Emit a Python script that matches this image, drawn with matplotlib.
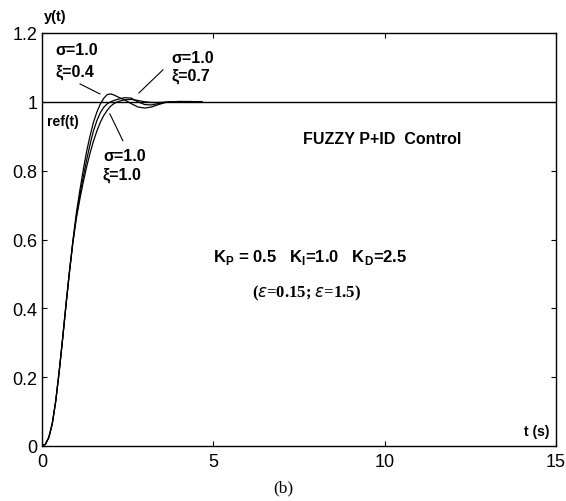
import matplotlib
matplotlib.use("Agg")
import matplotlib.pyplot as plt

# ---- data ----
t_vals = [0, 0.1, 0.2, 0.3, 0.4, 0.5, 0.6, 0.7, 0.8, 0.9, 1.0, 1.1, 1.2, 1.3, 1.4,
          1.5, 1.6, 1.7, 1.8, 1.9, 2.0, 2.1, 2.2, 2.4, 2.6, 2.8, 3.0, 3.2, 3.4,
          3.6, 3.8, 4.0, 4.3, 4.67]
y_xi04 = [0, 0.005, 0.025, 0.065, 0.13, 0.215, 0.31, 0.41, 0.505, 0.595, 0.675,
          0.74, 0.80, 0.855, 0.90, 0.94, 0.97, 0.993, 1.01, 1.021, 1.023, 1.02,
          1.015, 1.006, 0.995, 0.985, 0.982, 0.985, 0.992, 0.998, 1.0, 1.001,
          1.001, 1.0]
y_xi07 = [0, 0.005, 0.025, 0.065, 0.13, 0.215, 0.31, 0.41, 0.505, 0.592, 0.665,
          0.725, 0.78, 0.83, 0.875, 0.915, 0.945, 0.968, 0.984, 0.994, 1.0,
          1.004, 1.007, 1.012, 1.011, 1.0, 0.992, 0.991, 0.995, 0.999, 1.0,
          1.001, 1.0, 1.0]
y_xi10 = [0, 0.005, 0.025, 0.065, 0.13, 0.215, 0.31, 0.41, 0.505, 0.59, 0.66,
          0.715, 0.765, 0.81, 0.85, 0.885, 0.915, 0.94, 0.96, 0.975, 0.987,
          0.995, 1.0, 1.006, 1.007, 1.004, 1.0, 0.998, 0.998, 0.999, 1.0,
          1.0, 1.0, 1.0]
ref_t = [0, 15]
ref_y = [1, 1]

x_ticks = [0, 5, 10, 15]
y_ticks = [0, 0.2, 0.4, 0.6, 0.8, 1, 1.2]
x_tick_labels = ["0", "5", "10", "15"]
y_tick_labels = ["0", "0.2", "0.4", "0.6", "0.8", "1", "1.2"]

# ---- figure ----
plt.rcParams['font.family'] = ['Liberation Sans', 'DejaVu Sans']
fig = plt.figure(figsize=(5.66, 5.02), dpi=100)
ax = fig.add_axes([42/566, 1-447/502, (556-42)/566, (447-34)/502])

ax.plot(ref_t, ref_y, color='black', lw=1.0)
for ys in (y_xi04, y_xi07, y_xi10):
    ax.plot(t_vals, ys, color='black', lw=0.9)

ax.set_xlim(0, 15)
ax.set_ylim(0, 1.2)
ax.set_xticks(x_ticks)
ax.set_xticklabels(x_tick_labels)
ax.set_yticks(y_ticks)
ax.set_yticklabels(y_tick_labels)
ax.tick_params(direction='in', length=3.5, width=0.8, top=True, right=True,
               labelsize=13, colors='black')
ax.tick_params(axis='x', pad=5)
ax.tick_params(axis='y', pad=3.5)
for s in ax.spines.values():
    s.set_linewidth(1.0)

bold = dict(fontweight='bold', fontsize=11.5, color='black')

# annotations
ax.text(0.38, 1.151, "σ=1.0", va='center', ha='left', **bold)
ax.text(0.38, 1.09, "ξ=0.4", va='center', ha='left', **bold)
ax.plot([1.11, 1.69], [1.052, 1.023], color='black', lw=0.8)

ax.text(3.79, 1.128, "σ=1.0", va='center', ha='left', **bold)
ax.text(3.79, 1.076, "ξ=0.7", va='center', ha='left', **bold)
ax.plot([3.53, 2.83], [1.093, 1.026], color='black', lw=0.8)

ax.text(1.78, 0.843, "σ=1.0", va='center', ha='left', **bold)
ax.text(1.78, 0.79, "ξ=1.0", va='center', ha='left', **bold)
ax.plot([1.98, 2.36], [0.965, 0.887], color='black', lw=0.8)

ax.text(0.15, 0.945, "ref(t)", va='center', ha='left', fontweight='bold', fontsize=10)
ax.text(0.06, 1.25, "y(t)", va='center', ha='left', fontweight='bold', fontsize=10.5,
        clip_on=False)
ax.text(14.8, 0.044, "t (s)", va='center', ha='right', fontweight='bold', fontsize=10)

ax.text(7.62, 0.894, "FUZZY P+ID  Control", va='center', ha='left',
        fontweight='bold', fontsize=11.5)
ax.text(4.99, 0.552,
        r"K$_\mathregular{P}$ = 0.5   K$_\mathregular{I}$=1.0   K$_\mathregular{D}$=2.5",
        va='center', ha='left', fontweight='bold', fontsize=12)
ax.text(7.73, 0.445, r"($\varepsilon$=0.15; $\varepsilon$=1.5)", va='center', ha='center',
        family=['Liberation Serif', 'DejaVu Serif'], fontweight='bold', fontsize=12)

fig.text(0.5, 1-488/502, "(b)", ha='center', va='center',
         family=['Liberation Serif', 'DejaVu Serif'], fontsize=12.5)

fig.savefig("out.png", dpi=100)
